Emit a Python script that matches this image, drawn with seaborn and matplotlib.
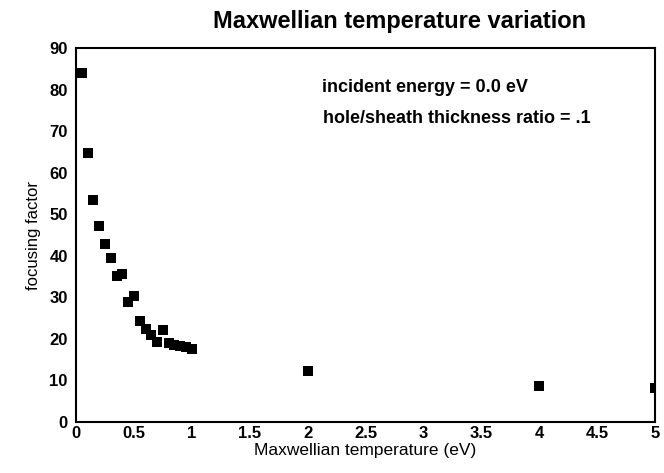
import matplotlib
matplotlib.use("Agg")
import matplotlib.pyplot as plt
import seaborn as sns
import pandas as pd

# Maxwellian temperature (eV) vs focusing factor
temperature = [0.05, 0.1, 0.15, 0.2, 0.25, 0.3, 0.35, 0.4, 0.45, 0.5,
               0.55, 0.6, 0.65, 0.7, 0.75, 0.8, 0.85, 0.9, 0.95, 1.0,
               2.0, 4.0, 5.0]
focusing = [84.1, 64.8, 53.4, 47.2, 42.8, 39.5, 35.1, 35.5, 28.9, 30.3,
            24.4, 22.4, 21.0, 19.2, 22.1, 18.9, 18.6, 18.3, 18.0, 17.6,
            12.2, 8.7, 8.2]

xticks = [0, 0.5, 1, 1.5, 2, 2.5, 3, 3.5, 4, 4.5, 5]
xticklabels = ["0", "0.5", "1", "1.5", "2", "2.5", "3", "3.5", "4", "4.5", "5"]
yticks = [0, 10, 20, 30, 40, 50, 60, 70, 80, 90]

df = pd.DataFrame({"temp": temperature, "ff": focusing})

sns.set_style("white")
plt.rcParams['font.family'] = ['Liberation Sans', 'DejaVu Sans']
plt.rcParams['text.color'] = 'black'
plt.rcParams['axes.labelcolor'] = 'black'
plt.rcParams['xtick.color'] = 'black'
plt.rcParams['ytick.color'] = 'black'

fig = plt.figure(figsize=(6.64, 4.73), dpi=100)
ax = fig.add_axes([0.1145, 0.1078, 0.872, 0.7907])

sns.scatterplot(data=df, x="temp", y="ff", marker="s", s=55, color="black",
                edgecolor="black", linewidth=0, ax=ax)

ax.set_xlim(0, 5)
ax.set_ylim(0, 90)
ax.set_xticks(xticks)
ax.set_xticklabels(xticklabels, fontsize=12, fontweight="bold")
ax.set_yticks(yticks)
ax.set_yticklabels([str(v) for v in yticks], fontsize=12, fontweight="bold")
ax.tick_params(axis="y", direction="out", length=5, width=1.2, color="black", pad=1)
ax.tick_params(axis="x", length=0, pad=3)

for sp in ax.spines.values():
    sp.set_color("black")
    sp.set_linewidth(1.5)

ax.set_xlabel("Maxwellian temperature (eV)", fontsize=12.5, labelpad=1)
ax.set_ylabel("focusing factor", fontsize=12, labelpad=6)

ax.text(2.125, 80.6, "incident energy = 0.0 eV", fontsize=13, fontweight="bold",
        va="center", ha="left")
ax.text(2.13, 73.1, "hole/sheath thickness ratio = .1", fontsize=13, fontweight="bold",
        va="center", ha="left")

fig.text(0.602, 0.955, "Maxwellian temperature variation", fontsize=17,
         fontweight="bold", ha="center", va="center")

fig.savefig("out.png", dpi=100)
